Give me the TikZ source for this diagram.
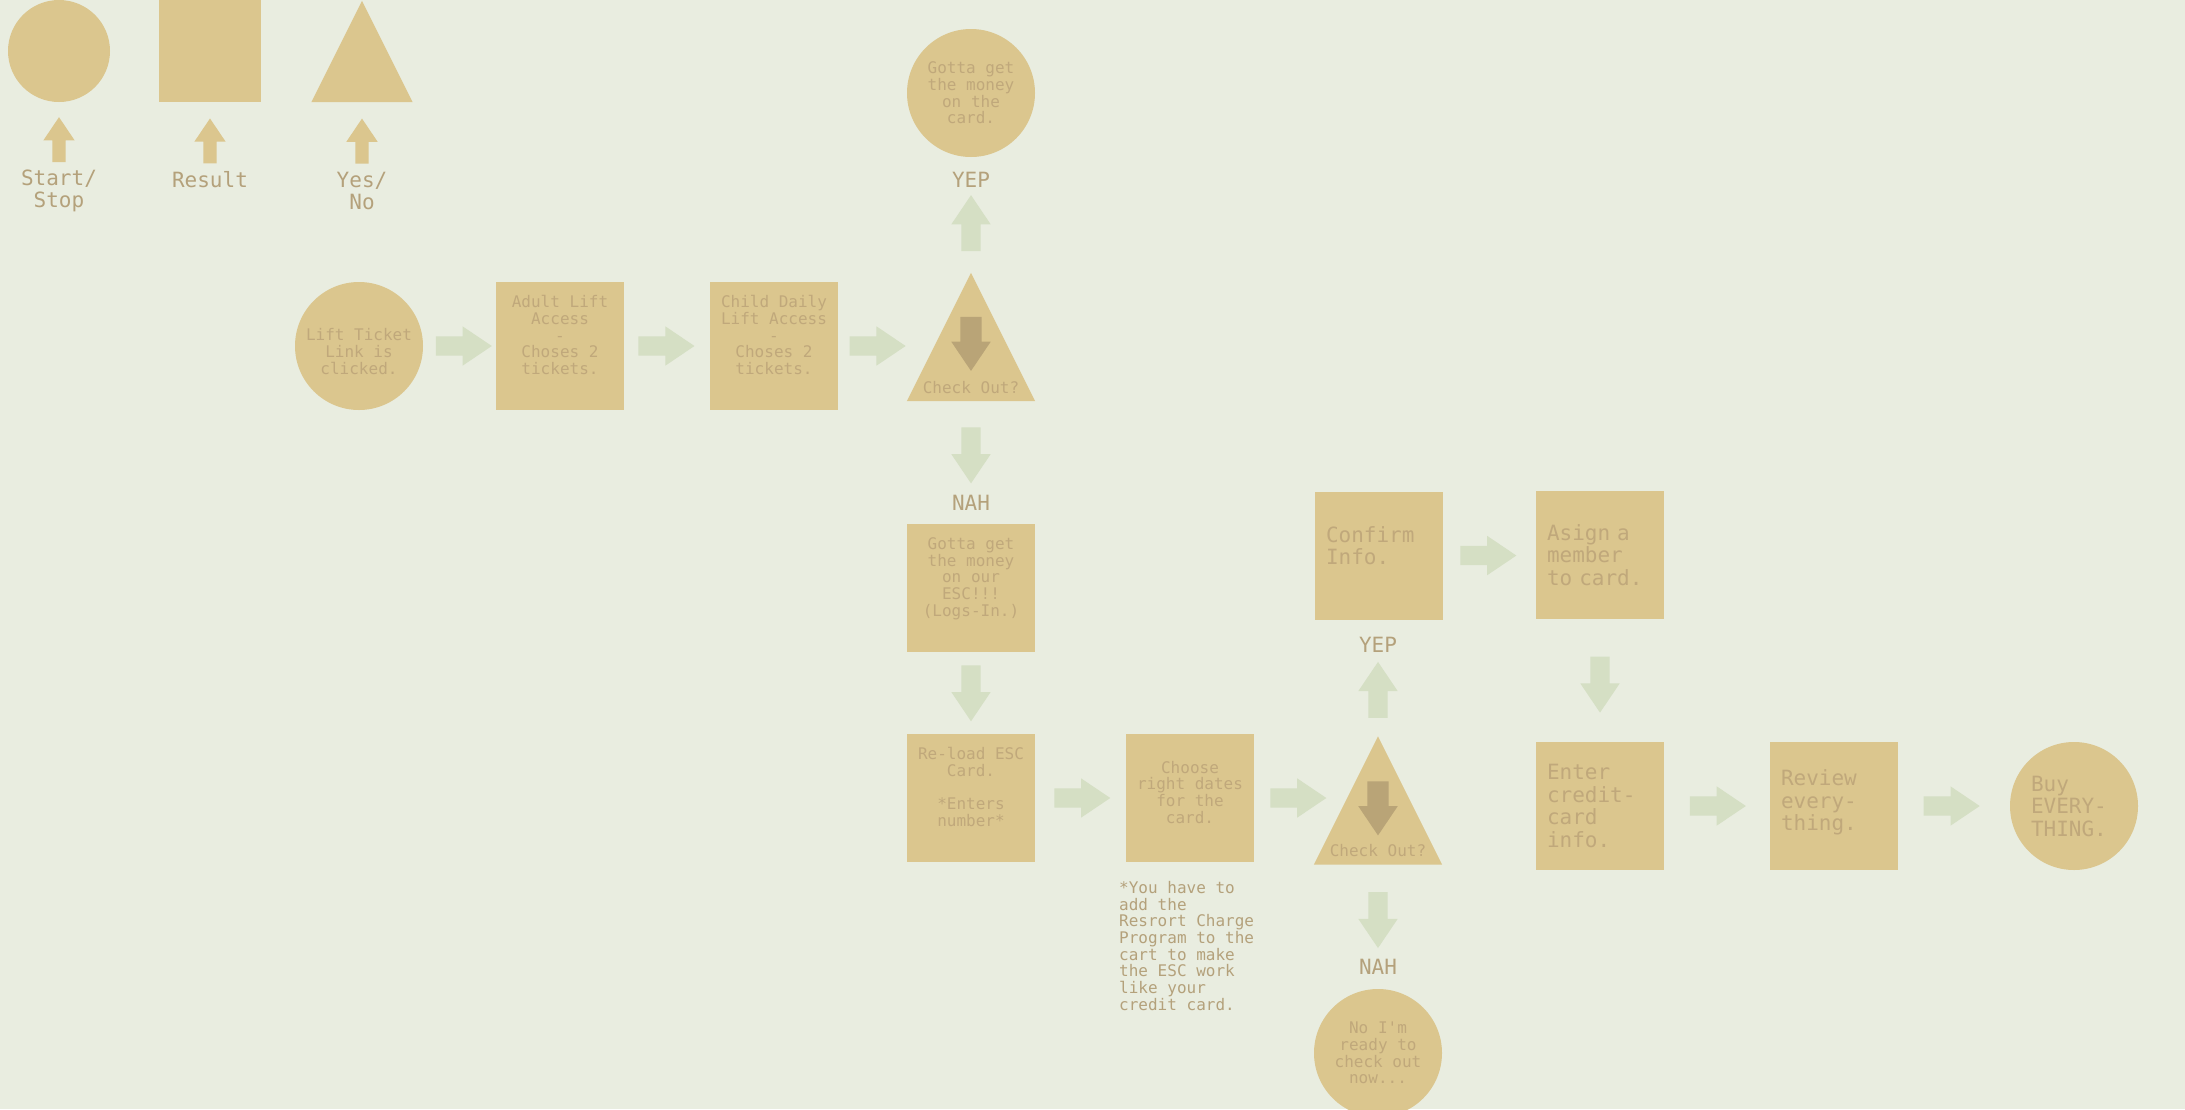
\documentclass[tikz,border=0pt]{standalone}
\usepackage{fontspec}
\setmainfont{DejaVu Sans Mono}
\usetikzlibrary{shapes.arrows}

\definecolor{paper}{HTML}{E9EDE0}
\definecolor{sand}{HTML}{DBC68E}
\definecolor{sage}{HTML}{D5DFC4}
\definecolor{ink}{HTML}{C0A87B}
\definecolor{darkink}{HTML}{B4A17B}
\definecolor{darksand}{HTML}{B9A477}

\newcommand{\boxfont}{\fontsize{16}{16.7}\selectfont}
\newcommand{\bigfont}{\fontsize{21}{22.5}\selectfont}

\begin{document}
\begin{tikzpicture}[x=1pt,y=-1pt]
	\tikzstyle{terminal}=[circle,fill=sand,inner sep=0pt,minimum size=128pt,text=ink,align=center,font=\boxfont]
	\tikzstyle{result}=[terminal,rectangle,text depth=22pt]
	\tikzstyle{big result}=[terminal,rectangle,align=left,text width=106pt,font=\bigfont]
	\tikzstyle{decision}=[rectangle,inner sep=0pt,minimum size=128pt]
	\tikzstyle{answer}=[inner sep=0pt,text=darkink,font=\bigfont]
	\tikzstyle{flow arrow}=[single arrow,fill=sage,inner xsep=0pt,inner ysep=9.5pt,minimum height=56pt,minimum width=39pt,single arrow head extend=10pt,single arrow tip angle=68]
	\tikzstyle{inner arrow}=[flow arrow,fill=darksand,inner ysep=10.5pt,minimum height=54pt,single arrow head extend=9pt]
	\tikzstyle{legend arrow}=[flow arrow,fill=sand,inner ysep=6.5pt,minimum height=45pt,minimum width=31pt,single arrow head extend=9pt]

	\useasboundingbox (0,0) rectangle (2185,1109);
	\fill[paper] (0,0) rectangle (2185,1109);

	\node[terminal,minimum size=102pt] (lgstart) at (59,51) {};
	\node[result,minimum size=102pt] (lgresult) at (210,51) {};
	\node[decision,minimum size=101pt] (lgyesno) at (362,51.5) {};
	\fill[sand] (lgyesno.north) -- (lgyesno.south east) -- (lgyesno.south west) -- cycle;
	\node[answer,align=center] (lgstarttxt) at (59,191) {Start/\\Stop};
	\node[answer] (lgresulttxt) at (210,180) {Result};
	\node[answer,align=center] (lgyesnotxt) at (362,191) {Yes/\\No};
	\path (lgstarttxt) -- node[legend arrow,pos=.37,rotate=90] {} (lgstart);
	\path (lgresulttxt) -- node[legend arrow,pos=.37,rotate=90] {} (lgresult);
	\path (lgyesnotxt) -- node[legend arrow,pos=.37,rotate=90] {} (lgyesno);

	\node[terminal,text height=57pt] (lift) at (359,346) {Lift Ticket\\Link is\\clicked.};
	\node[result] (adultpass) at (560,346) {Adult Lift\\Access\\-\\Choses 2\\tickets.};
	\node[result] (childpass) at (774,346) {Child Daily\\Lift Access\\-\\Choses 2\\tickets.};
	\node[decision] (check1) at (971,337) {};
	\fill[sand] (check1.north) -- (check1.south east) -- (check1.south west) -- cycle;
	\node[inner arrow,rotate=-90] (down1) at ([yshift=1pt]check1.center) {};
	\node[answer,font=\boxfont,text=ink] (checktxt1) at (971,388) {Check Out?};
	\node[answer] (yep1) at (971,180) {YEP};
	\node[terminal] (cardmoney) at (971,93) {Gotta get\\the money\\on the\\card.};
	\node[answer] (nah1) at (971,503) {NAH};
	\node[result] (escmoney) at (971,588) {Gotta get\\the money\\on our\\ESC!!!\\(Logs-In.)};
	\node[result] (reload) at (971,798) {Re-load ESC\\Card.\\\mbox{}\\{*}Enters\\number*};
	\node[result,text depth=12pt] (dates) at (1190,798) {Choose\\right dates\\for the\\card.};
	\node[anchor=north west,inner sep=0pt,align=left,text=darkink,font=\boxfont] (note) at (1119,881) {{*}You have to\\add the\\Resrort Charge\\Program to the\\cart to make\\the ESC work\\like your\\credit card.};

	\node[decision] (check2) at (1378,800.5) {};
	\fill[sand] (check2.north) -- (check2.south east) -- (check2.south west) -- cycle;
	\node[inner arrow,rotate=-90] (down2) at (check2.center) {};
	\node[answer,font=\boxfont,text=ink] (checktxt2) at (1378,851) {Check Out?};
	\node[answer] (yep2) at (1378,645) {YEP};
	\node[big result,text depth=43pt] (confirm) at (1379,556) {Confirm\\Info.};
	\node[big result] (member) at (1600,555) {Asign a\\member\\to card.};
	\node[big result] (credit) at (1600,806) {Enter\\credit-\\card\\info.};
	\node[big result,text depth=56pt] (review) at (1834,806) {Review\\every-\\thing.};
	\node[terminal,align=left,text width=86pt,font=\bigfont] (buy) at (2074,806) {Buy\\EVERY-\\THING.};
	\node[answer] (nah2) at (1378,967) {NAH};
	\node[terminal] (notready) at (1378,1053) {No I\textquotesingle m\\ready to\\check out\\now...};

	\path (lift) -- node[flow arrow,pos=.46] {} (adultpass);
	\path (adultpass) -- node[flow arrow,pos=.41] {} (childpass);
	\path (childpass) -- node[flow arrow,pos=.47] {} (childpass -| check1.west);
	\path (check1) -- node[flow arrow,pos=.5,rotate=90] {} (yep1);
	\path (check1) -- node[flow arrow,pos=.5,rotate=-90] {} (nah1);
	\path (escmoney) -- node[flow arrow,pos=.415,rotate=-90] {} (reload);
	\path (reload) -- node[flow arrow,pos=.44] {} (dates);
	\path (dates) -- node[flow arrow,pos=.62] {} (dates -| check2.west);
	\path (check2) -- node[flow arrow,pos=.47,rotate=90] {} (yep2);
	\path (check2) -- node[flow arrow,pos=.51,rotate=-90] {} (nah2);
	\path (confirm) -- node[flow arrow,pos=.41] {} (member);
	\path (member) -- node[flow arrow,pos=.475,rotate=-90] {} (credit);
	\path (credit) -- node[flow arrow,pos=.44] {} (review);
	\path (review) -- node[flow arrow,pos=.415] {} (buy);
\end{tikzpicture}
\end{document}
